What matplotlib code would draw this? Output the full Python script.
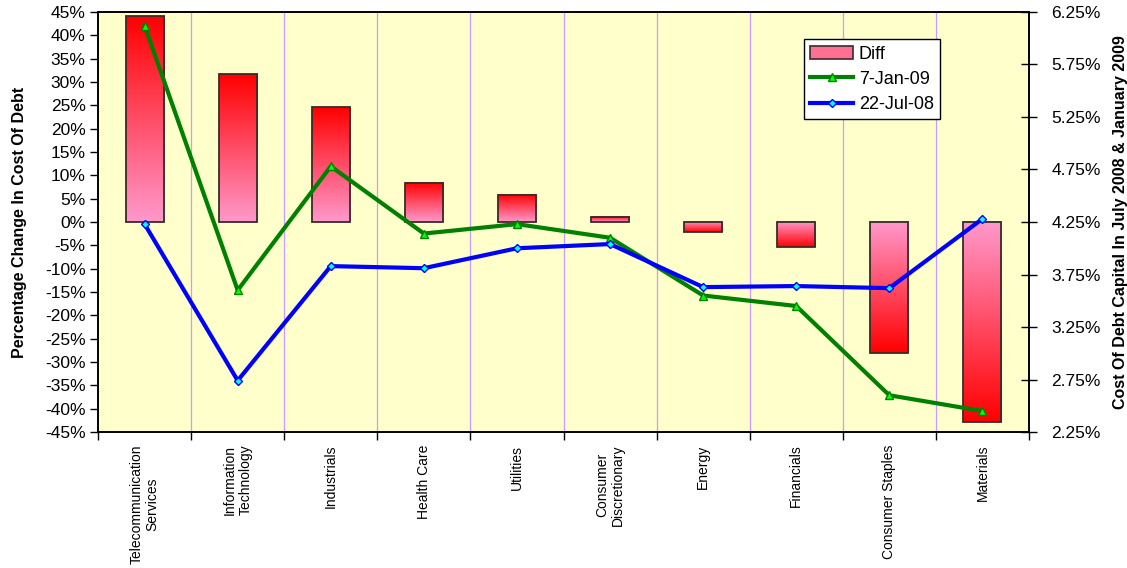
import numpy as np
import matplotlib
matplotlib.use("Agg")
import matplotlib.pyplot as plt
from matplotlib.colors import LinearSegmentedColormap
from matplotlib.patches import Patch
from matplotlib.lines import Line2D
from matplotlib.ticker import FuncFormatter

plt.rcParams["font.family"] = ["Liberation Sans", "DejaVu Sans"]

# sectors and cost of debt figures
sectors = ["Telecommunication\nServices", "Information\nTechnology", "Industrials",
           "Health Care", "Utilities", "Consumer\nDiscretionary", "Energy",
           "Financials", "Consumer Staples", "Materials"]
diff_pct = [44.1, 31.7, 24.6, 8.4, 5.8, 1.1, -2.2, -5.4, -28.1, -42.9]
jan09 = [6.12, 3.60, 4.78, 4.14, 4.23, 4.10, 3.55, 3.45, 2.60, 2.45]
jul08 = [4.23, 2.74, 3.83, 3.81, 4.00, 4.04, 3.63, 3.64, 3.62, 4.28]

left_ticks = np.arange(-45, 46, 5)
right_ticks = np.arange(2.25, 6.26, 0.5)

fig = plt.figure(figsize=(11.27, 5.68), dpi=100)
ax = fig.add_axes([0.087, 0.2394, 0.826, 0.7395])
ax.set_facecolor("#FFFFCC")

x = np.arange(len(sectors))
bar_w = 0.41

# gradient bars: pink at zero, red at the far end
cmap = LinearSegmentedColormap.from_list("diff", ["#FF99CC", "#FF0000"])
grad = np.linspace(0, 1, 256).reshape(-1, 1)
for xi, v in zip(x, diff_pct):
    g = grad if v >= 0 else grad[::-1]
    ax.imshow(g, cmap=cmap, aspect="auto", origin="lower", interpolation="bilinear",
              extent=(xi - bar_w / 2, xi + bar_w / 2, min(0, v), max(0, v)), zorder=2)
ax.bar(x, diff_pct, width=bar_w, facecolor="none", edgecolor="#3a2a2a", linewidth=1.3, zorder=3)

ax.set_xlim(-0.5, len(sectors) - 0.5)
ax.set_ylim(-45, 45)
ax.set_yticks(left_ticks)
ax.yaxis.set_major_formatter(FuncFormatter(lambda v, p: "%d%%" % v))
ax.tick_params(axis="y", direction="out", length=6, width=1, labelsize=12.5, pad=3)

# sector boundaries
bounds = np.arange(len(sectors) + 1) - 0.5
ax.set_xticks(bounds, minor=True)
ax.set_xticks(x)
ax.set_xticklabels(sectors, rotation=90, fontsize=10, va="top", ha="center",
                   multialignment="center")
ax.tick_params(axis="x", which="major", length=0, pad=9)
ax.tick_params(axis="x", which="minor", direction="out", length=6, width=1)
for b in bounds[1:-1]:
    ax.axvline(b, color="#CC99FF", linewidth=0.9, zorder=1)

for s in ax.spines.values():
    s.set_linewidth(1.2)

ax.set_ylabel("Percentage Change In Cost Of Debt", fontsize=11.5, fontweight="bold", labelpad=13)

# cost of debt lines on the right axis
ax2 = ax.twinx()
ax2.plot(x, jan09, color="#008000", linewidth=3, marker="^", markersize=6,
         markerfacecolor="#00FF00", markeredgecolor="#008000", markeredgewidth=1, zorder=4)
ax2.plot(x, jul08, color="#0000FF", linewidth=3, marker="D", markersize=4.5,
         markerfacecolor="#00FFFF", markeredgecolor="#0000FF", markeredgewidth=1, zorder=5)
ax2.set_ylim(2.25, 6.25)
ax2.set_yticks(right_ticks)
ax2.yaxis.set_major_formatter(FuncFormatter(lambda v, p: "%.2f%%" % v))
ax2.tick_params(axis="y", direction="inout", length=12, width=1, labelsize=12.5, pad=10)
ax2.set_ylabel("Cost Of Debt Capital In July 2008 & January 2009", fontsize=11.5,
               fontweight="bold", labelpad=9)
for s in ax2.spines.values():
    s.set_linewidth(1.2)

handles = [
    Patch(facecolor="#FF6F94", edgecolor="#3a2a2a", linewidth=1.2),
    Line2D([], [], color="#008000", linewidth=3, marker="^", markersize=6,
           markerfacecolor="#00FF00", markeredgecolor="#008000"),
    Line2D([], [], color="#0000FF", linewidth=3, marker="D", markersize=4.5,
           markerfacecolor="#00FFFF", markeredgecolor="#0000FF"),
]
leg = ax2.legend(handles, ["Diff", "7-Jan-09", "22-Jul-08"], loc="upper left",
                 bbox_to_anchor=(0.758, 0.935), fontsize=13, frameon=True, fancybox=False,
                 edgecolor="black", framealpha=1, borderpad=0.35, labelspacing=0.45,
                 handlelength=2.4, handletextpad=0.3, borderaxespad=0)
leg.get_frame().set_linewidth(1)

fig.savefig("out.png", dpi=100)
